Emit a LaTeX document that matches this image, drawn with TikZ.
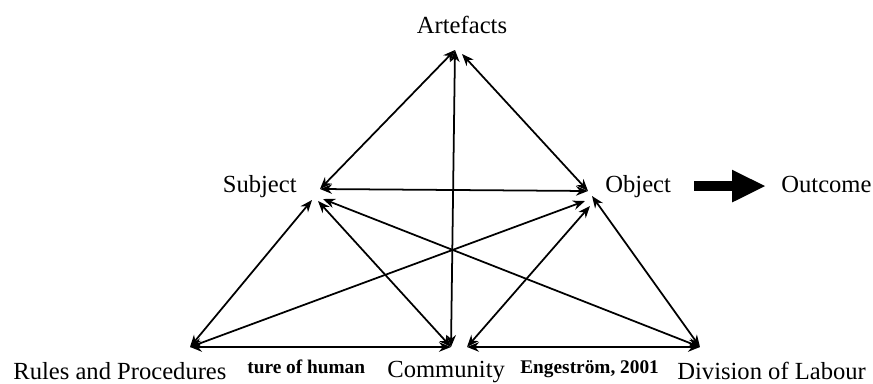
\documentclass[tikz,border=0pt]{standalone}
\usepackage{fontspec}
\setmainfont{Liberation Serif}
\usetikzlibrary{arrows.meta}

\begin{document}
\begin{tikzpicture}[x=0.02cm, y=-0.02cm,
    >={Stealth[length=2.4mm, width=1.9mm]},
    link/.style={<->, line width=1pt},
    bigarrow/.style={line width=0.2cm, -{Triangle[length=6.8mm, width=6mm]}},
    lbl/.style={inner sep=0pt, font=\fontsize{14}{16}\selectfont},
    note/.style={inner sep=0pt, font=\fontsize{11}{13}\selectfont\bfseries}]
    \useasboundingbox (0,0) rectangle (873,383);

    \node[lbl, anchor=base] (artefacts) at (462,33) {Artefacts};
    \node[lbl, anchor=base east] (subject) at (297,192) {Subject};
    \node[lbl, anchor=base west] (object) at (605,192) {Object};
    \node[lbl, anchor=base west] (outcome) at (781,192) {Outcome};
    \node[lbl, anchor=base west] (rules) at (13,379) {Rules and Procedures};
    \node[note, anchor=base west] (noteA) at (247,373) {ture of human};
    \node[lbl, anchor=base west] (community) at (387,377) {Community};
    \node[note, anchor=base west] (noteB) at (520,373) {Engeström, 2001};
    \node[lbl, anchor=base west] (division) at (677,379) {Division of Labour};

    \coordinate (pA) at (455,50);
    \coordinate (pA2) at (462,54);
    \coordinate (pS) at (320,189);
    \coordinate (pS1) at (312,200);
    \coordinate (pS2) at (318,201);
    \coordinate (pS3) at (323,199);
    \coordinate (pO) at (588,191);
    \coordinate (pO1) at (585,201);
    \coordinate (pO2) at (590,206);
    \coordinate (pO3) at (592,196);
    \coordinate (pR) at (190,347);
    \coordinate (pC) at (451,347);
    \coordinate (pC2) at (467,347);
    \coordinate (pD) at (700,347);

    \draw[link] (pS) -- (pA);
    \draw[link] (pO) -- (pA2);
    \draw[link] (pA) -- (pC);
    \draw[link] (pS) -- (pO);
    \draw[link] (pR) -- (pS1);
    \draw[link] (pR) -- (pO1);
    \draw[link] (pS2) -- (pC);
    \draw[link] (pS3) -- (pD);
    \draw[link] (pC2) -- (pO2);
    \draw[link] (pO3) -- (pD);
    \draw[link] (pR) -- (pC);
    \draw[link] (pC2) -- (pD);

    \draw[bigarrow, shorten <=0.46cm, shorten >=0.3cm] (object.east) -- (object.east -| outcome.west);
\end{tikzpicture}
\end{document}
